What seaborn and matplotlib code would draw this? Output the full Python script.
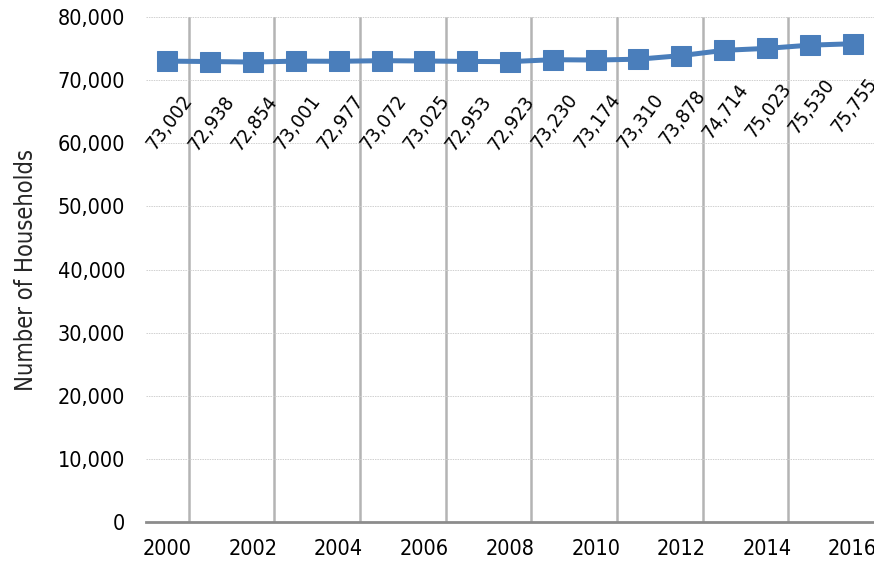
import numpy as np
import pandas as pd
import matplotlib
matplotlib.use("Agg")
import matplotlib.pyplot as plt
import seaborn as sns
from matplotlib.ticker import FuncFormatter, FixedLocator

# Data
years = list(range(2000, 2017))
households = [73002, 72938, 72854, 73001, 72977, 73072, 73025, 72953, 72923,
              73230, 73174, 73310, 73878, 74714, 75023, 75530, 75755]
year_ticks = [2000, 2002, 2004, 2006, 2008, 2010, 2012, 2014, 2016]

df = pd.DataFrame({"year": years, "households": households})

sns.set_style("white")
plt.rcParams["font.family"] = ["DejaVu Sans"]
plt.rcParams["font.stretch"] = "condensed"

fig = plt.figure(figsize=(8.74, 5.65), dpi=100)
ax = fig.add_axes([0.167, 0.076, 0.833, 0.894])

blue = "#4A7EBB"
sns.lineplot(data=df, x="year", y="households", ax=ax, color=blue,
             linewidth=3.6, marker="s", markersize=14, markeredgecolor=blue,
             zorder=3)

# data labels
for x, y in zip(years, households):
    ax.annotate(f"{y:,}", (x, y), xytext=(15, -26), textcoords="offset points",
                rotation=53, rotation_mode="anchor", ha="right", va="center",
                fontsize=14.5, color="black", fontstretch="condensed")

ax.set_xlim(1999.5, 2016.5)
ax.set_ylim(0, 80000)
ax.yaxis.set_major_locator(FixedLocator(range(0, 80001, 10000)))
ax.yaxis.set_major_formatter(FuncFormatter(lambda v, p: f"{int(v):,}"))
ax.set_xticks(year_ticks)
ax.set_xticklabels([str(y) for y in year_ticks])
ax.xaxis.set_minor_locator(FixedLocator([y + 0.5 for y in year_ticks[:-1]]))

ax.grid(axis="y", which="major", color="#d0d0d0", linestyle=(0, (1.5, 1)), linewidth=0.7)
ax.grid(axis="x", which="minor", color="#b4b4b4", linestyle="-", linewidth=1.8)
ax.grid(axis="x", which="major", visible=False)
ax.set_axisbelow(True)

for s in ["left", "right", "top"]:
    ax.spines[s].set_visible(False)
ax.spines["bottom"].set_color("#8c8c8c")
ax.spines["bottom"].set_linewidth(2)

ax.tick_params(axis="both", which="both", length=0, labelsize=15.5, colors="black")
ax.tick_params(axis="x", pad=12)
ax.tick_params(axis="y", pad=15)
ax.set_xlabel("")
ax.set_ylabel("Number of Households", fontsize=17, labelpad=14)

fig.savefig("out.png", dpi=100)
